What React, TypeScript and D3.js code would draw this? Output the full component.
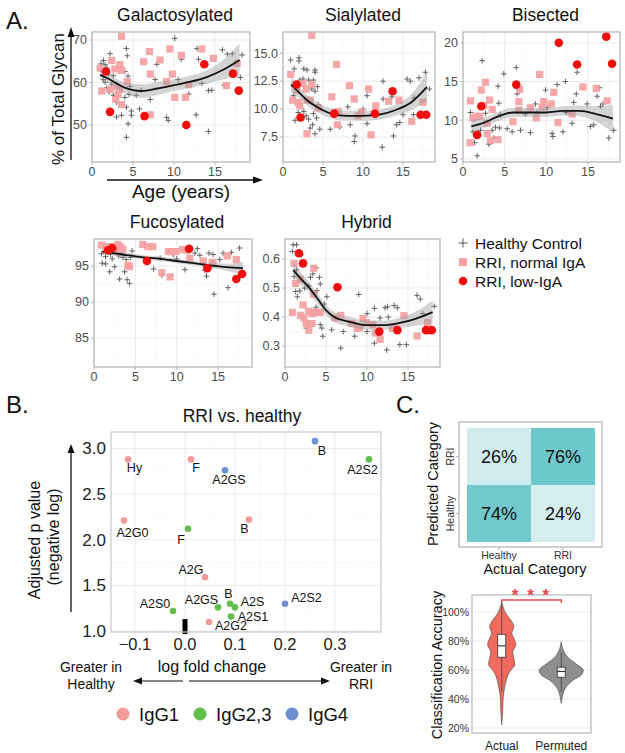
import React from "react";
import * as d3 from "d3";

const FONT = "'Liberation Sans', Arial, Helvetica, sans-serif";

// ================= Panel A data =================
const curveAges = [1, 2, 3, 4, 5, 6, 8, 10, 12, 14, 16, 18];
const lowIgaAges = [1.7, 2.2, 6.4, 11.5, 13.7, 17.2, 17.9];
const panelTitles = ["Galactosylated", "Sialylated", "Bisected", "Fucosylated", "Hybrid"];
const legendALabels = ["Healthy Control", "RRI, normal IgA", "RRI, low-IgA"];

const galHealthy = [[2.2,66.8],[1.4,65.2],[1.6,64.2],[1.1,64.4],[1.8,63.4],[1.4,62.6],[2.0,62.0],[2.6,61.6],[1.4,60.7],[1.6,60.1],[2.4,59.6],[1.8,58.8],[2.1,57.8],[2.6,57.0],[3.0,55.4],[4.2,68.0],[4.3,66.3],[4.0,62.6],[4.4,61.5],[4.6,59.1],[4.5,57.2],[4.0,56.5],[4.2,54.2],[4.8,52.3],[4.4,50.3],[4.2,47.1],[3.6,52.3],[3.0,51.9],[4.8,53.3],[5.8,53.8],[5.4,57.0],[6.0,58.2],[7.1,56.0],[7.7,60.7],[7.9,64.3],[9.1,51.8],[9.3,51.1],[10.1,70.4],[10.5,60.7],[10.9,65.5],[11.8,57.3],[12.8,68.0],[13.0,65.5],[12.7,52.4],[13.4,59.8],[14.2,58.1],[14.2,48.5],[14.6,58.2],[15.9,67.7],[16.5,66.7],[17.1,66.8],[18.3,66.5],[16.1,59.4],[18.1,61.2]];
const galNormal = [[3.6,70.9],[1.0,63.4],[2.4,65.2],[2.8,63.2],[3.4,64.2],[3.6,62.9],[1.2,58.0],[2.2,58.4],[3.0,59.0],[3.4,58.4],[2.9,56.0],[3.2,57.2],[3.6,54.8],[4.3,60.2],[6.3,64.9],[7.0,67.3],[7.1,62.0],[8.3,65.3],[9.5,67.9],[9.1,60.2],[9.8,62.0],[10.1,56.5],[11.4,56.5],[10.9,66.4],[11.8,59.5],[13.4,67.9],[14.8,65.7],[16.4,59.3],[17.7,64.5],[7.1,52.4]];
const galLow = [62.6, 53.1, 52.1, 50.0, 64.3, 62.1, 58.1];
const galFit = [61.8, 60.9, 59.8, 58.8, 58.2, 58.0, 58.6, 59.4, 60.2, 61.3, 63.0, 65.3];
const galSe = [1.4, 1.1, 1.1, 1.3, 1.5, 1.6, 1.5, 1.4, 1.4, 1.6, 2.3, 3.9];
const galTicks = [50, 60, 70];

const sialHealthy = [[0.95,14.4],[2.0,14.6],[2.0,14.3],[1.4,13.6],[2.6,13.6],[3.0,13.5],[4.0,13.5],[4.0,13.3],[2.1,12.6],[2.5,12.7],[3.2,12.6],[3.8,12.6],[3.6,11.8],[4.0,11.6],[4.3,12.0],[1.3,11.2],[1.5,9.0],[1.9,9.7],[2.6,9.8],[2.9,9.4],[3.2,9.1],[3.8,9.6],[4.2,9.2],[3.7,8.6],[3.4,8.3],[4.0,7.8],[4.6,8.2],[4.4,10.4],[5.9,8.2],[7.1,8.4],[8.1,10.2],[8.4,8.6],[8.9,7.1],[9.0,7.6],[10.0,10.0],[10.5,11.2],[10.5,8.7],[12.5,12.5],[12.5,10.9],[12.4,6.6],[13.8,7.6],[13.6,11.1],[14.2,8.6],[14.6,8.8],[15.0,9.5],[15.5,12.7],[15.9,12.5],[16.3,9.5],[16.4,11.0],[17.0,12.8],[17.8,13.3],[18.3,11.8]];
const sialNormal = [[3.6,16.6],[0.96,13.1],[1.2,10.8],[1.9,10.6],[2.1,10.3],[1.7,11.7],[2.5,12.3],[2.9,11.8],[3.0,10.8],[3.4,10.8],[3.6,12.2],[3.0,7.8],[4.4,10.1],[6.1,11.1],[6.7,14.0],[6.8,8.6],[6.9,9.8],[8.3,12.1],[8.9,10.9],[9.4,9.4],[9.8,9.7],[10.7,11.8],[11.0,7.7],[11.6,10.3],[13.2,10.7],[14.5,10.8],[16.1,8.9],[17.5,10.6]];
const sialLow = [12.2, 9.25, 9.6, 9.6, 11.6, 9.5, 9.5];
const sialFit = [12.2, 11.5, 10.8, 10.3, 9.9, 9.6, 9.4, 9.4, 9.5, 9.9, 10.6, 12.0];
const sialSe = [0.7, 0.5, 0.45, 0.45, 0.45, 0.45, 0.45, 0.45, 0.45, 0.5, 0.7, 1.3];
const sialTicks = [7.5, 10, 12.5, 15];

const bisHealthy = [[0.9,11.0],[1.2,8.5],[1.4,7.1],[1.7,5.4],[2.3,17.7],[2.1,8.7],[2.7,10.9],[3.1,6.9],[3.5,8.7],[3.9,9.1],[3.7,7.7],[4.2,14.4],[4.3,12.2],[4.5,10.7],[4.4,9.0],[4.9,16.0],[5.3,8.9],[5.9,8.5],[6.4,16.8],[6.5,13.4],[6.9,8.7],[7.5,10.8],[8.1,8.4],[8.7,12.1],[8.9,11.0],[9.9,13.9],[10.1,11.6],[10.7,8.3],[10.8,7.9],[11.3,14.6],[12.0,8.5],[12.3,15.0],[12.4,11.0],[13.3,12.3],[13.7,16.2],[13.1,9.6],[13.6,13.4],[14.9,12.1],[15.3,9.2],[15.7,9.4],[16.1,13.1],[16.4,14.2],[16.5,11.8],[16.8,12.1],[17.5,7.7],[18.1,8.7]];
const bisNormal = [[0.84,7.1],[0.9,12.5],[1.2,10.3],[1.6,10.5],[2.0,10.5],[2.2,13.9],[2.7,14.9],[2.5,11.9],[2.9,9.6],[2.9,8.3],[3.2,12.6],[3.3,7.4],[3.5,11.4],[4.2,7.5],[6.0,9.8],[6.8,14.0],[6.7,12.4],[6.7,11.3],[8.1,11.6],[8.8,10.3],[9.2,15.9],[9.5,11.7],[9.7,12.4],[10.6,12.1],[10.9,13.6],[11.4,9.7],[13.1,10.8],[14.4,14.3],[16.0,14.1],[17.3,12.5]];
const bisLow = [8.1, 11.8, 14.6, 20.0, 17.2, 20.8, 17.3];
const bisFit = [9.2, 9.5, 9.9, 10.4, 10.8, 11.0, 11.0, 11.0, 11.2, 11.2, 10.8, 10.2];
const bisSe = [0.9, 0.7, 0.6, 0.6, 0.6, 0.6, 0.6, 0.6, 0.6, 0.7, 1.0, 1.8];
const bisTicks = [5, 10, 15, 20];

const fucoHealthy = [[0.9,96.7],[1.4,96.3],[2.0,96.6],[2.2,96.0],[1.0,95.4],[1.4,95.3],[1.9,94.2],[2.5,94.9],[3.1,93.2],[3.7,94.2],[4.0,93.1],[4.3,92.6],[3.9,95.9],[4.6,97.1],[4.4,96.2],[3.0,96.4],[3.3,96.8],[2.7,97.1],[3.5,96.2],[7.2,94.6],[8.0,96.1],[8.2,93.7],[9.6,96.6],[10.0,96.0],[11.0,94.5],[12.2,96.8],[12.5,97.4],[12.8,96.5],[13.3,95.2],[13.4,94.4],[13.6,93.6],[13.9,96.8],[14.4,96.6],[14.5,91.1],[15.2,95.9],[15.6,96.8],[16.6,96.9],[17.6,97.5],[16.2,92.0],[17.9,94.2]];
const fucoNormal = [[0.9,97.9],[1.5,97.7],[2.2,97.7],[2.9,98.0],[3.2,97.7],[3.5,97.3],[2.6,97.0],[4.1,95.1],[4.3,94.9],[5.9,98.0],[6.5,97.7],[7.1,97.7],[8.2,94.1],[9.2,93.5],[9.0,97.0],[9.4,97.0],[9.9,97.0],[10.7,97.3],[11.2,97.2],[11.6,96.1],[13.2,95.7],[14.3,95.5],[14.4,95.3],[16.1,96.4],[17.2,95.9]];
const fucoLow = [97.2, 97.5, 95.7, 97.4, 94.7, 93.2, 93.9];
const fucoFit = [97.0, 96.85, 96.7, 96.5, 96.35, 96.2, 96.0, 95.7, 95.4, 95.1, 94.85, 94.7];
const fucoSe = [0.5, 0.35, 0.3, 0.3, 0.3, 0.3, 0.3, 0.3, 0.3, 0.35, 0.5, 0.9];
const fucoTicks = [85, 90, 95];

const hybHealthy = [[1.0,0.649],[1.4,0.649],[0.9,0.626],[2.0,0.614],[1.4,0.563],[1.1,0.54],[1.3,0.488],[1.5,0.47],[1.8,0.49],[2.4,0.5],[2.9,0.508],[3.1,0.537],[3.4,0.549],[3.8,0.57],[4.2,0.537],[4.3,0.514],[3.9,0.491],[4.8,0.445],[5.1,0.47],[3.8,0.434],[2.6,0.362],[4.3,0.374],[4.6,0.334],[4.5,0.362],[5.7,0.356],[6.8,0.293],[7.1,0.35],[8.5,0.334],[9.0,0.478],[10.0,0.412],[10.0,0.35],[10.9,0.43],[11.6,0.397],[12.2,0.432],[12.5,0.435],[12.6,0.4],[13.3,0.44],[13.7,0.432],[12.4,0.287],[14.0,0.305],[14.8,0.305],[16.1,0.475],[16.5,0.462],[16.8,0.412],[18.2,0.437],[10.9,0.31],[8.7,0.374]];
const hybNormal = [[1.1,0.585],[1.3,0.516],[0.9,0.416],[1.9,0.531],[1.9,0.406],[2.3,0.397],[2.6,0.378],[2.9,0.42],[3.3,0.412],[3.3,0.378],[3.5,0.568],[3.5,0.478],[3.5,0.418],[4.0,0.416],[4.3,0.416],[2.9,0.355],[2.2,0.442],[6.1,0.397],[6.8,0.406],[8.1,0.378],[8.8,0.361],[9.1,0.363],[9.5,0.395],[9.9,0.381],[10.7,0.374],[11.0,0.345],[11.6,0.323],[13.1,0.361],[14.5,0.405],[16.1,0.335],[17.4,0.381]];
const hybLow = [0.62, 0.585, 0.503, 0.35, 0.355, 0.355, 0.355];
const hybFit = [0.562, 0.53, 0.5, 0.462, 0.424, 0.4, 0.383, 0.372, 0.372, 0.38, 0.395, 0.417];
const hybSe = [0.025, 0.02, 0.018, 0.018, 0.018, 0.018, 0.016, 0.016, 0.016, 0.018, 0.025, 0.04];
const hybTicks = [0.3, 0.4, 0.5, 0.6];

const xTicksA = [0, 5, 10, 15];

// ================= Panel B data =================
const bNames = ["Hy", "F", "A2GS", "B", "A2S2", "A2G0", "F", "B", "A2G", "A2S0", "A2GS", "B", "A2S", "A2S1", "A2G2", "A2S2"];
const bLogFC = [-0.114, 0.012, 0.08, 0.26, 0.368, -0.122, 0.006, 0.128, 0.04, -0.024, 0.066, 0.09, 0.1, 0.092, 0.048, 0.2];
const bNegLogP = [2.88, 2.88, 2.76, 3.08, 2.88, 2.21, 2.12, 2.22, 1.59, 1.22, 1.26, 1.3, 1.26, 1.16, 1.1, 1.3];
const bGroup = ["IgG1", "IgG1", "IgG4", "IgG4", "IgG2,3", "IgG1", "IgG2,3", "IgG1", "IgG1", "IgG2,3", "IgG2,3", "IgG2,3", "IgG2,3", "IgG2,3", "IgG1", "IgG4"];
const bGroups = ["IgG1", "IgG2,3", "IgG4"];
const bXTicks = [-0.1, 0, 0.1, 0.2, 0.3];
const bYTicks = [1.0, 1.5, 2.0, 2.5, 3.0];
// label offsets (layout only)
const bLabelDx = [6.5, 5, 4, 7, -6.5, 8.5, -7, -4.5, -14, -18, -16.5, -1.5, 17.5, 22, 22, 21.5];
const bLabelDy = [13, 13, 14, 14, 15, 16, 15, 13, -3, -3, -3, -6, -1, 4.5, 8.5, -2];

// ================= Panel C data =================
const cats = ["Healthy", "RRI"];
const confActual = ["Healthy", "Healthy", "RRI", "RRI"];
const confPredicted = ["Healthy", "RRI", "Healthy", "RRI"];
const confPct = [74, 26, 24, 76];

const violinGroups = ["Actual", "Permuted"];
const actualPct = [106.4, 99.1, 94.5, 89.9, 85.3, 81.9, 77.2, 72.6, 68.1, 63.4, 58.8, 54.3, 48.5, 41.6, 30.1, 22.1];
const actualDensity = [0, 0.18, 0.41, 0.55, 0.46, 0.55, 0.64, 0.5, 0.55, 0.59, 0.36, 0.23, 0.14, 0.07, 0.035, 0];
const permPct = [79.5, 73.8, 69.2, 64.6, 60, 56.6, 53.1, 48.5, 44, 37];
const permDensity = [0, 0.09, 0.27, 0.64, 1.0, 0.91, 0.55, 0.23, 0.09, 0];
const boxQ1 = [68.8, 55];
const boxMed = [76.6, 59];
const boxQ3 = [84.6, 61.9];
const whiskLo = [45, 45];
const whiskHi = [106, 72];
const violinTicks = [20, 40, 60, 80, 100];

// ================= colours =================
const groupColor: Record<string, string> = { "IgG1": "#F39A9A", "IgG2,3": "#62BE4A", "IgG4": "#6F8FD3" };
const squareFill = "#F5A0A2";
const lowRed = "#F20D0D";
const gridMajor = "#EBEBEB";
const gridMinor = "#F5F5F5";
const borderCol = "#B8B8B8";
const tickText = "#4D4D4D";

type PanelLayout = { x: number; y: number; w: number; h: number; xMax: number; dom: [number, number]; fmt: string };
const layoutA: PanelLayout[] = [
  { x: 92, y: 32, w: 158, h: 130, xMax: 19.27, dom: [41.3, 71.9], fmt: "d" },
  { x: 283, y: 32, w: 152, h: 130, xMax: 19.0, dom: [5.27, 16.9], fmt: ".1f" },
  { x: 463, y: 32, w: 157, h: 130, xMax: 18.85, dom: [4.6, 21.4], fmt: "d" },
  { x: 94, y: 239, w: 158, h: 128, xMax: 19.1, dom: [81, 98.75], fmt: "d" },
  { x: 285, y: 239, w: 155, h: 128, xMax: 18.9, dom: [0.228, 0.669], fmt: ".1f" },
];
const dataA = [
  { healthy: galHealthy, normal: galNormal, low: galLow, fit: galFit, se: galSe, ticks: galTicks },
  { healthy: sialHealthy, normal: sialNormal, low: sialLow, fit: sialFit, se: sialSe, ticks: sialTicks },
  { healthy: bisHealthy, normal: bisNormal, low: bisLow, fit: bisFit, se: bisSe, ticks: bisTicks },
  { healthy: fucoHealthy, normal: fucoNormal, low: fucoLow, fit: fucoFit, se: fucoSe, ticks: fucoTicks },
  { healthy: hybHealthy, normal: hybNormal, low: hybLow, fit: hybFit, se: hybSe, ticks: hybTicks },
];

function plusPath(x: number, y: number, r = 2.8) {
  return `M${x - r},${y}h${2 * r}M${x},${y - r}v${2 * r}`;
}

function PanelA({ idx }: { idx: number }) {
  const L = layoutA[idx];
  const D = dataA[idx];
  const x = d3.scaleLinear().domain([0, L.xMax]).range([L.x, L.x + L.w]);
  const y = d3.scaleLinear().domain(L.dom).range([L.y + L.h, L.y]);
  const fmt = d3.format(L.fmt);
  const step = D.ticks[1] - D.ticks[0];
  const minorY = [D.ticks[0] - step / 2, ...D.ticks.map((t) => t + step / 2)].filter((v) => v > L.dom[0] && v < L.dom[1]);
  const minorX = [2.5, 7.5, 12.5, 17.5].filter((v) => v < L.xMax);
  const fit = curveAges.map((a, i) => ({ a, f: D.fit[i], s: D.se[i] }));
  const area = d3.area<any>().x((d) => x(d.a)).y0((d) => y(d.f - d.s)).y1((d) => y(d.f + d.s)).curve(d3.curveMonotoneX);
  const line = d3.line<any>().x((d) => x(d.a)).y((d) => y(d.f)).curve(d3.curveMonotoneX);
  const titleX = L.x + L.w / 2 + 4;
  const titleY = L.y - 11;
  return (
    <g>
      <text x={titleX} y={titleY} textAnchor="middle" fontSize={17.5} fill="#111">{panelTitles[idx]}</text>
      <rect x={L.x} y={L.y} width={L.w} height={L.h} fill="#fff" />
      {minorY.map((v, i) => <line key={"my" + i} x1={L.x} x2={L.x + L.w} y1={y(v)} y2={y(v)} stroke={gridMinor} strokeWidth={0.6} />)}
      {minorX.map((v, i) => <line key={"mx" + i} y1={L.y} y2={L.y + L.h} x1={x(v)} x2={x(v)} stroke={gridMinor} strokeWidth={0.6} />)}
      {D.ticks.map((v, i) => <line key={"gy" + i} x1={L.x} x2={L.x + L.w} y1={y(v)} y2={y(v)} stroke={gridMajor} strokeWidth={1} />)}
      {xTicksA.map((v, i) => <line key={"gx" + i} y1={L.y} y2={L.y + L.h} x1={x(v)} x2={x(v)} stroke={gridMajor} strokeWidth={1} />)}
      <path d={D.healthy.map((p) => plusPath(x(p[0]), y(p[1]))).join("")} stroke="#555" strokeWidth={0.9} fill="none" />
      {D.normal.map((p, i) => (
        <rect key={"s" + i} x={x(p[0]) - 3.6} y={y(p[1]) - 3.6} width={7.2} height={7.2} fill={squareFill} opacity={0.92} />
      ))}
      <path d={area(fit) || ""} fill="#999" opacity={0.42} />
      <path d={line(fit) || ""} stroke="#111" strokeWidth={1.8} fill="none" />
      {D.low.map((v, i) => (
        <circle key={"c" + i} cx={x(lowIgaAges[i])} cy={y(v)} r={4.3} fill={lowRed} />
      ))}
      <rect x={L.x} y={L.y} width={L.w} height={L.h} fill="none" stroke={borderCol} strokeWidth={1.3} />
      {D.ticks.map((v, i) => (
        <g key={"ty" + i}>
          <line x1={L.x - 3} x2={L.x} y1={y(v)} y2={y(v)} stroke={borderCol} />
          <text x={L.x - 5} y={y(v) + 4.3} textAnchor="end" fontSize={12.5} fill={tickText}>{fmt(v)}</text>
        </g>
      ))}
      {xTicksA.map((v, i) => (
        <g key={"tx" + i}>
          <line y1={L.y + L.h} y2={L.y + L.h + 3} x1={x(v)} x2={x(v)} stroke={borderCol} />
          <text x={x(v)} y={L.y + L.h + 14} textAnchor="middle" fontSize={12.5} fill={tickText}>{v}</text>
        </g>
      ))}
    </g>
  );
}

function PanelB() {
  const x = d3.scaleLinear().domain([-0.148, 0.392]).range([111, 381]);
  const y = d3.scaleLinear().domain([0.99, 3.18]).range([632, 432]);
  const fx = d3.format(".1f");
  const minorX = [-0.15, -0.05, 0.05, 0.15, 0.25, 0.35].filter((v) => v > -0.148 && v < 0.392);
  const minorY = [1.25, 1.75, 2.25, 2.75];
  const [x0, x1] = x.range();
  const [y0, y1] = y.range();
  return (
    <g>
      <text x={242} y={422} textAnchor="middle" fontSize={17.5} fill="#111">RRI vs. healthy</text>
      <rect x={x0} y={y1} width={x1 - x0} height={y0 - y1} fill="#fff" />
      {minorX.map((v, i) => <line key={"mx" + i} x1={x(v)} x2={x(v)} y1={y1} y2={y0} stroke={gridMinor} strokeWidth={0.6} />)}
      {minorY.map((v, i) => <line key={"my" + i} y1={y(v)} y2={y(v)} x1={x0} x2={x1} stroke={gridMinor} strokeWidth={0.6} />)}
      {bXTicks.map((v, i) => <line key={"gx" + i} x1={x(v)} x2={x(v)} y1={y1} y2={y0} stroke={gridMajor} />)}
      {bYTicks.map((v, i) => <line key={"gy" + i} y1={y(v)} y2={y(v)} x1={x0} x2={x1} stroke={gridMajor} />)}
      <rect x={x(0) - 2.5} y={y(1.0) - 12} width={5} height={15} fill="#000" />
      {bNames.map((n, i) => (
        <circle key={"p" + i} cx={x(bLogFC[i])} cy={y(bNegLogP[i])} r={3.3} fill={groupColor[bGroup[i]]} />
      ))}
      {bNames.map((n, i) => (
        <text key={"l" + i} x={x(bLogFC[i]) + bLabelDx[i]} y={y(bNegLogP[i]) + bLabelDy[i]} textAnchor="middle" fontSize={12.5} fill="#111">{n}</text>
      ))}
      <rect x={x0} y={y1} width={x1 - x0} height={y0 - y1} fill="none" stroke="#C8C8C8" strokeWidth={1.2} />
      {bXTicks.map((v, i) => (
        <text key={"tx" + i} x={x(v)} y={650} textAnchor="middle" fontSize={16.5} fill="#222">{fx(v)}</text>
      ))}
      {bYTicks.map((v, i) => (
        <text key={"ty" + i} x={106} y={y(v) + 6} textAnchor="end" fontSize={17} fill="#222">{fx(v)}</text>
      ))}
      {/* axis annotations */}
      <line x1={71} x2={71} y1={612} y2={452} stroke="#111" strokeWidth={1.3} />
      <path d="M71,444 L67.5,453 L74.5,453 Z" fill="#111" />
      <text transform="translate(40,540) rotate(-90)" textAnchor="middle" fontSize={16} fill="#111">Adjusted p value</text>
      <text transform="translate(59,537) rotate(-90)" textAnchor="middle" fontSize={16} fill="#111">(negative log)</text>
      <text x={212} y={672} textAnchor="middle" fontSize={16} fill="#111">log fold change</text>
      <text x={91} y={672} textAnchor="middle" fontSize={14} fill="#111">Greater in</text>
      <text x={91} y={689} textAnchor="middle" fontSize={14} fill="#111">Healthy</text>
      <text x={361} y={672} textAnchor="middle" fontSize={14} fill="#111">Greater in</text>
      <text x={361} y={689} textAnchor="middle" fontSize={14} fill="#111">RRI</text>
      <line x1={183} x2={140} y1={681} y2={681} stroke="#111" strokeWidth={1.2} />
      <path d="M133,681 L142,677.5 L142,684.5 Z" fill="#111" />
      <line x1={189} x2={323} y1={681} y2={681} stroke="#111" strokeWidth={1.2} />
      <path d="M330,681 L321,677.5 L321,684.5 Z" fill="#111" />
      {/* legend */}
      {bGroups.map((g, i) => {
        const cx = [123, 200, 292][i];
        return (
          <g key={"lg" + i}>
            <circle cx={cx} cy={714} r={6.5} fill={groupColor[g]} />
            <text x={cx + 16} y={721} fontSize={18.5} fill="#111">{g}</text>
          </g>
        );
      })}
    </g>
  );
}

function PanelC() {
  const xb = d3.scaleBand().domain(cats).range([467, 595]);
  const yb = d3.scaleBand().domain([...cats].reverse()).range([428, 542]);
  const col = d3.scaleLinear<string>().domain([24, 76]).range(["#D4EDEF", "#6DC8CB"]);
  // violin
  const vx = d3.scalePoint().domain(violinGroups).range([472, 591]).padding(0.5);
  const vy = d3.scaleLinear().domain([16.55, 111.7]).range([733, 595]);
  const dw = d3.scaleLinear().domain([0, 1]).range([0, 22]);
  const pf = (v: number) => `${v}%`;
  const violins = [
    { pct: actualPct, dens: actualDensity, fill: "#F2695E" },
    { pct: permPct, dens: permDensity, fill: "#8E8E8E" },
  ];
  return (
    <g>
      <rect x={459} y={422} width={143} height={125} fill="#fff" stroke={borderCol} strokeWidth={1.3} />
      {confPct.map((v, i) => (
        <g key={"cell" + i}>
          <rect x={xb(confActual[i])} y={yb(confPredicted[i])} width={xb.bandwidth()} height={yb.bandwidth()} fill={col(v)} />
          <text x={(xb(confActual[i]) as number) + xb.bandwidth() / 2} y={(yb(confPredicted[i]) as number) + yb.bandwidth() / 2 + 6.5} textAnchor="middle" fontSize={18} fill="#111">{v}%</text>
        </g>
      ))}
      {cats.map((c, i) => (
        <g key={"cx" + i}>
          <line x1={(xb(c) as number) + xb.bandwidth() / 2} x2={(xb(c) as number) + xb.bandwidth() / 2} y1={547} y2={550} stroke={borderCol} />
          <text x={(xb(c) as number) + xb.bandwidth() / 2} y={559} textAnchor="middle" fontSize={10.5} fill="#333">{c}</text>
          <line x1={456} x2={459} y1={(yb(c) as number) + yb.bandwidth() / 2} y2={(yb(c) as number) + yb.bandwidth() / 2} stroke={borderCol} />
          <text transform={`translate(454,${(yb(c) as number) + yb.bandwidth() / 2}) rotate(-90)`} textAnchor="middle" fontSize={10.5} fill="#333">{c}</text>
        </g>
      ))}
      <text x={535} y={574} textAnchor="middle" fontSize={14.5} fill="#111">Actual Category</text>
      <text transform="translate(438,484) rotate(-90)" textAnchor="middle" fontSize={14.5} fill="#111">Predicted Category</text>

      {/* violin panel */}
      <rect x={472} y={595} width={119} height={138} fill="#fff" />
      {[30, 50, 70, 90, 110].map((v, i) => <line key={"vm" + i} x1={472} x2={591} y1={vy(v)} y2={vy(v)} stroke={gridMinor} strokeWidth={0.6} />)}
      {violinTicks.map((v, i) => <line key={"vg" + i} x1={472} x2={591} y1={vy(v)} y2={vy(v)} stroke={gridMajor} />)}
      {violinGroups.map((g, gi) => {
        const cx = vx(g) as number;
        const V = violins[gi];
        const pts = V.pct.map((p, i) => ({ p, d: V.dens[i] }));
        const ar = d3.area<any>().y((d) => vy(d.p)).x0((d) => cx - dw(d.d)).x1((d) => cx + dw(d.d)).curve(d3.curveCatmullRom);
        return (
          <g key={"v" + gi}>
            <path d={ar(pts) || ""} fill={V.fill} stroke="#444" strokeWidth={0.6} />
            <line x1={cx} x2={cx} y1={vy(whiskHi[gi])} y2={vy(whiskLo[gi])} stroke="#333" strokeWidth={0.7} />
            <rect x={cx - 4} y={vy(boxQ3[gi])} width={8} height={vy(boxQ1[gi]) - vy(boxQ3[gi])} fill="#fff" stroke="#333" strokeWidth={0.8} />
            <line x1={cx - 4} x2={cx + 4} y1={vy(boxMed[gi])} y2={vy(boxMed[gi])} stroke="#333" strokeWidth={1.1} />
            <text x={cx} y={750} textAnchor="middle" fontSize={12} fill="#222">{g}</text>
          </g>
        );
      })}
      <rect x={472} y={595} width={119} height={138} fill="none" stroke={borderCol} strokeWidth={1.2} />
      {violinTicks.map((v, i) => (
        <text key={"vt" + i} x={469} y={vy(v) + 3.8} textAnchor="end" fontSize={10.5} fill="#333">{pf(v)}</text>
      ))}
      <text transform="translate(442,665) rotate(-90)" textAnchor="middle" fontSize={14.5} fill="#111">Classification Accuracy</text>
      {/* significance */}
      <path d={`M${vx("Actual")},603 V600 H${vx("Permuted")} V603`} stroke="#E8474B" strokeWidth={1.3} fill="none" />
      <text x={((vx("Actual") as number) + (vx("Permuted") as number)) / 2} y={601} textAnchor="middle" fontSize={17} fontWeight="bold" fill="#E8474B" letterSpacing={2}>* * *</text>
    </g>
  );
}

export default function App() {
  return (
    <svg width={625} height={753} viewBox="0 0 625 753" style={{ position: "absolute", left: 0, top: 0, background: "#fff" }} fontFamily={FONT}>
      <rect width={625} height={753} fill="#fff" />
      <text x={6} y={29} fontSize={24} fill="#111">A.</text>
      <text x={6} y={413} fontSize={24} fill="#111">B.</text>
      <text x={396} y={413} fontSize={24} fill="#111">C.</text>
      {layoutA.map((_, i) => <PanelA key={i} idx={i} />)}
      {/* Panel A axis annotations */}
      <line x1={71} x2={71} y1={160} y2={36} stroke="#111" strokeWidth={1.3} />
      <path d="M71,27 L67.5,37 L74.5,37 Z" fill="#111" />
      <text transform="translate(64,99) rotate(-90)" textAnchor="middle" fontSize={17} fill="#111">% of Total Glycan</text>
      <line x1={107} x2={254} y1={180} y2={180} stroke="#111" strokeWidth={1.3} />
      <path d="M263,180 L253,176.5 L253,183.5 Z" fill="#111" />
      <text x={181} y={198} textAnchor="middle" fontSize={19} fill="#111">Age (years)</text>
      {/* legend A */}
      <path d={plusPath(463, 243, 4.5)} stroke="#555" strokeWidth={1} />
      <text x={475} y={249} fontSize={15.5} fill="#111">{legendALabels[0]}</text>
      <rect x={459} y={258} width={8} height={8} fill={squareFill} />
      <text x={475} y={268} fontSize={15.5} fill="#111">{legendALabels[1]}</text>
      <circle cx={463} cy={281} r={4.3} fill={lowRed} />
      <text x={475} y={287} fontSize={15.5} fill="#111">{legendALabels[2]}</text>
      <PanelB />
      <PanelC />
    </svg>
  );
}
